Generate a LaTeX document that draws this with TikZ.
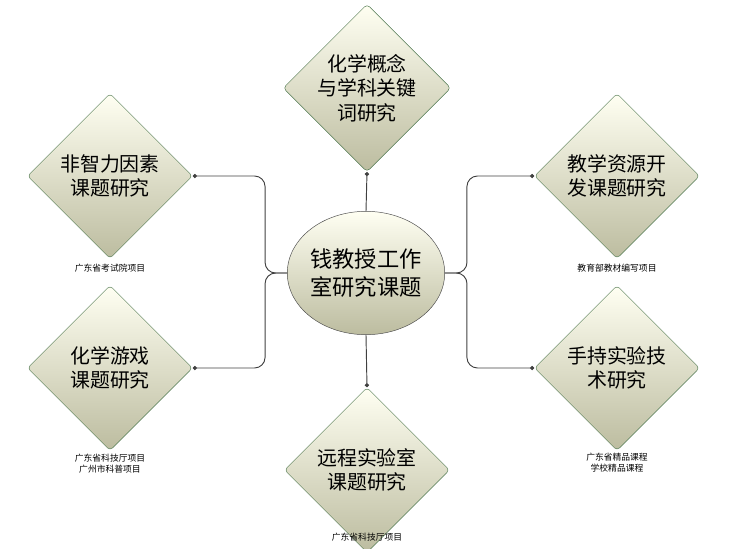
\documentclass[tikz,border=0pt]{standalone}
\usepackage{fontspec}
\setmainfont{Noto Sans CJK SC}
\usetikzlibrary{arrows.meta,shapes.geometric,positioning}

\begin{document}
\begin{tikzpicture}[
				x=0.03cm, y=-0.03cm,
				link/.style={thick, draw=black!75, rounded corners=9pt, -{Circle[length=3.5pt]}},
				topic/.style={diamond, aspect=1, inner sep=0pt, minimum width=4.95cm, minimum height=4.95cm, draw=black!60!green!40!gray, top color=white!95!yellow, bottom color=black!25!yellow!25!gray!60, align=center, font=\fontsize{17}{21}\selectfont, rounded corners=3pt},
				hub/.style={ellipse, inner sep=0pt, minimum width=4.25cm, minimum height=3.7cm, draw=black!70, top color=white!95!yellow, bottom color=black!25!yellow!25!gray!60, align=center, font=\fontsize{19}{24}\selectfont},
				note/.style={align=center, font=\fontsize{7.5}{9.5}\selectfont},
			]
				\useasboundingbox (0,0) rectangle (729,548);
				\node[hub] (center) at (366,273) {钱教授工作\\室研究课题};

				\node[topic] (concept) at (367,88) {化学概念\\与学科关键\\词研究};
				\node[topic] (factor) at (110,176) {非智力因素\\课题研究};
				\node[topic] (game) at (110,368) {化学游戏\\课题研究};
				\node[topic] (remote) at (367,470) {远程实验室\\课题研究};
				\node[topic] (resource) at (617,176) {教学资源开\\发课题研究};
				\node[topic] (handheld) at (617,368) {手持实验技\\术研究};

				\node[note] (factor note) at (110,268) {广东省考试院项目};
				\node[note] (game note) at (110,464) {广东省科技厅项目\\广州市科普项目};
				\node[note] (remote note) at (367,537) {广东省科技厅项目};
				\node[note] (resource note) at (617,268) {教育部教材编写项目};
				\node[note] (handheld note) at (617,463) {广东省精品课程\\学校精品课程};

				\draw[link] (center.north) -- (concept.south);
				\draw[link] (center.south) -- (remote.north);
				\draw[link] (center.west) -- ++(-22,0) |- (factor.east);
				\draw[link] (center.west) -- ++(-22,0) |- (game.east);
				\draw[link] (center.east) -- ++(22,0) |- (resource.west);
				\draw[link] (center.east) -- ++(22,0) |- (handheld.west);
			\end{tikzpicture}
\end{document}
